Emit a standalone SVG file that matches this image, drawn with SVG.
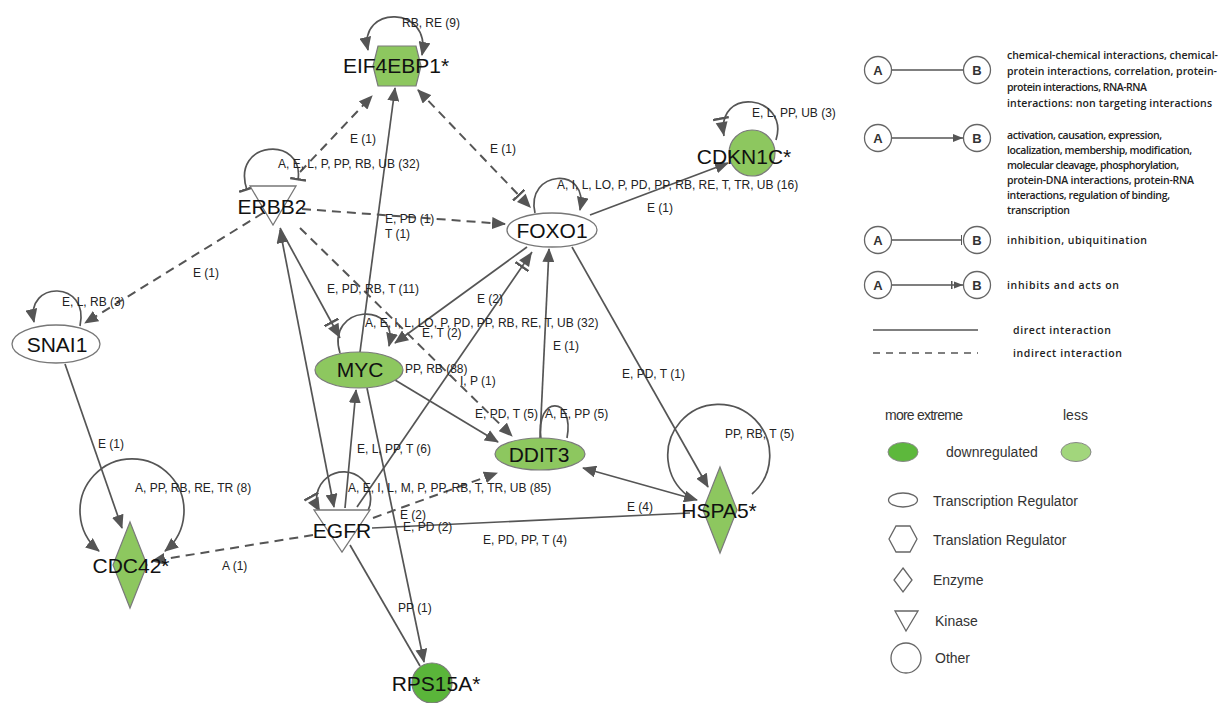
<svg xmlns="http://www.w3.org/2000/svg" width="1220" height="703" viewBox="0 0 1220 703">
<defs>
<style>
.e{fill:none;stroke:#555;stroke-width:1.7}
.d{fill:none;stroke:#555;stroke-width:2;stroke-dasharray:9 6}
.lb{font-family:"Liberation Sans",Arial,sans-serif;font-size:12px;fill:#222}
.nl{font-family:"Liberation Sans",Arial,sans-serif;font-size:21px;fill:#111;text-anchor:middle}
.g1{fill:#8dc75f;stroke:#7a7a7a;stroke-width:1.2}
.g2{fill:#5ab53a;stroke:#7a7a7a;stroke-width:1.2}
.wt{fill:#fff;stroke:#777;stroke-width:1.3}
.lg{font-family:"Open Sans","Liberation Sans",sans-serif;font-size:10.5px;font-weight:600;fill:#222}
.lg2{font-family:"Liberation Sans",Arial,sans-serif;font-size:14px;fill:#333}
.lc{fill:#fff;stroke:#666;stroke-width:1.3}
.lct{font-family:"Liberation Sans",Arial,sans-serif;font-size:13px;font-weight:bold;fill:#333;text-anchor:middle}
</style>
<marker id="arr" viewBox="0 0 14 12" refX="13" refY="6" markerWidth="14" markerHeight="12" markerUnits="userSpaceOnUse" orient="auto-start-reverse"><path d="M0,0 L14,6 L0,12 z" fill="#555"/></marker>
<marker id="inh" viewBox="0 0 20 16" refX="19" refY="8" markerWidth="20" markerHeight="16" markerUnits="userSpaceOnUse" orient="auto-start-reverse"><rect x="0" y="0" width="2.5" height="16" fill="#555"/><path d="M5,2 L19,8 L5,14 z" fill="#555"/></marker>
<marker id="bar" viewBox="0 0 4 16" refX="2" refY="8" markerWidth="4" markerHeight="16" markerUnits="userSpaceOnUse" orient="auto-start-reverse"><rect x="0" y="0" width="2.5" height="16" fill="#555"/></marker>
<marker id="arrS" viewBox="0 0 10 8" refX="10" refY="4" markerWidth="10" markerHeight="8" markerUnits="userSpaceOnUse" orient="auto"><path d="M0,0 L10,4 L0,8 z" fill="#555"/></marker>
<marker id="barS" viewBox="0 0 3 10" refX="1.5" refY="5" markerWidth="3" markerHeight="10" markerUnits="userSpaceOnUse" orient="auto"><rect x="0" y="0" width="1.5" height="10" fill="#555"/></marker>
<marker id="inhS" viewBox="0 0 12 10" refX="12" refY="5" markerWidth="12" markerHeight="10" markerUnits="userSpaceOnUse" orient="auto"><rect x="0" y="1" width="1.5" height="8" fill="#555"/><path d="M3,1.5 L12,5 L3,8.5 z" fill="#555"/></marker>
</defs>
<rect width="1220" height="703" fill="#fff"/>

<g id="connectors">
<path class="d" d="M300,172 L372,96" marker-end="url(#arr)"/>
<path class="e" d="M360,352 L395,88" marker-end="url(#arr)"/>
<path class="d" d="M418,90 L531,208" marker-start="url(#arr)" marker-end="url(#inh)"/>
<path class="d" d="M302,209 L505,224" marker-end="url(#arr)"/>
<path class="e" d="M590,215 L728,163" marker-end="url(#arr)"/>
<path class="d" d="M263,213 L85,323" marker-end="url(#arr)"/>
<path class="e" d="M65,364 L122,528" marker-end="url(#arr)"/>
<path class="e" d="M280,228 L340,338" marker-end="url(#inh)"/>
<path class="e" d="M280,230 L334,507" marker-start="url(#arr)" marker-end="url(#arr)"/>
<path class="d" d="M300,228 L512,436" marker-end="url(#arr)"/>
<path class="e" d="M527,247 L395,343" marker-end="url(#arr)"/>
<path class="e" d="M357,507 L532,252" marker-end="url(#inh)"/>
<path class="e" d="M540,438 L549,249" marker-end="url(#arr)"/>
<path class="e" d="M572,247 L708,487" marker-end="url(#arr)"/>
<path class="e" d="M395,380 L498,442" marker-end="url(#arr)"/>
<path class="d" d="M373,518 L497,473" marker-end="url(#arr)"/>
<path class="e" d="M583,468 L697,500" marker-start="url(#arr)" marker-end="url(#arr)"/>
<path class="e" d="M372,528 L690,513"/>
<path class="d" d="M313,535 L152,561" marker-end="url(#arr)"/>
<path class="e" d="M345,508 L356,390" marker-end="url(#arr)"/>
<path class="e" d="M367,388 L424,662" marker-end="url(#arr)"/>
<path class="e" d="M350,545 L420,666"/>
<path class="e" d="M368,50 C358,5 432,5 422,55" marker-start="url(#arr)" marker-end="url(#arr)"/>
<path class="e" d="M247,190 C230,140 305,135 298,180" marker-start="url(#bar)" marker-end="url(#bar)"/>
<path class="e" d="M535,213 C525,170 590,165 580,210" marker-end="url(#arr)"/>
<path class="e" d="M776,140 C790,95 715,85 724,136" marker-end="url(#inh)"/>
<path class="e" d="M80,326 C90,280 25,280 34,322" marker-end="url(#arr)"/>
<path class="e" d="M340,353 C325,305 400,300 389,346" marker-end="url(#arr)"/>
<path class="e" d="M541,439 C535,395 575,395 567,438"/>
<path class="e" d="M752,494 A51 51 0 1 0 688,496"/>
<path class="e" d="M99,551 A52 52 0 1 1 165,551" marker-start="url(#arr)" marker-end="url(#arr)"/>
<path class="e" d="M366,514 A27 27 0 1 0 320,512" marker-end="url(#inh)"/>
<text class="lb" x="402" y="27">RB, RE (9)</text>
<text class="lb" x="350" y="143">E (1)</text>
<text class="lb" x="490" y="153">E (1)</text>
<text class="lb" x="278" y="168">A, E, L, P, PP, RB, UB (32)</text>
<text class="lb" x="557" y="189">A, I, L, LO, P, PD, PP, RB, RE, T, TR, UB (16)</text>
<text class="lb" x="752" y="117">E, L, PP, UB (3)</text>
<text class="lb" x="647" y="212">E (1)</text>
<text class="lb" x="385" y="223">E, PD (1)</text>
<text class="lb" x="385" y="238">T (1)</text>
<text class="lb" x="193" y="277">E (1)</text>
<text class="lb" x="62" y="306">E, L, RB (3)</text>
<text class="lb" x="327" y="293">E, PD, RB, T (11)</text>
<text class="lb" x="477" y="303">E (2)</text>
<text class="lb" x="365" y="327">A, E, I, L, LO, P, PD, PP, RB, RE, T, UB (32)</text>
<text class="lb" x="422" y="337">E, T (2)</text>
<text class="lb" x="553" y="350">E (1)</text>
<text class="lb" x="405" y="373">PP, RB (88)</text>
<text class="lb" x="622" y="378">E, PD, T (1)</text>
<text class="lb" x="460" y="385">I, P (1)</text>
<text class="lb" x="475" y="418">E, PD, T (5)</text>
<text class="lb" x="545" y="418">A, E, PP (5)</text>
<text class="lb" x="725" y="438">PP, RB, T (5)</text>
<text class="lb" x="98" y="448">E (1)</text>
<text class="lb" x="357" y="453">E, L, PP, T (6)</text>
<text class="lb" x="135" y="492">A, PP, RB, RE, TR (8)</text>
<text class="lb" x="348" y="492">A, E, I, L, M, P, PP, RB, T, TR, UB (85)</text>
<text class="lb" x="627" y="511">E (4)</text>
<text class="lb" x="400" y="519">E (2)</text>
<text class="lb" x="403" y="531">E, PD (2)</text>
<text class="lb" x="483" y="544">E, PD, PP, T (4)</text>
<text class="lb" x="222" y="570">A (1)</text>
<text class="lb" x="398" y="612">PP (1)</text>
</g>

<g id="node-EIF4EBP1"><polygon class="g1" points="378,46 416,46 421,66 416,86 378,86 373,66"/><text class="nl" x="396" y="73">EIF4EBP1*</text></g>
<g id="node-ERBB2"><polygon class="wt" points="250,186 296,186 273,225"/><text class="nl" x="272" y="214">ERBB2</text></g>
<g id="node-FOXO1"><ellipse class="wt" cx="552" cy="230" rx="45" ry="17"/><text class="nl" x="552" y="238">FOXO1</text></g>
<g id="node-CDKN1C"><circle class="g1" cx="752" cy="153" r="23"/><text class="nl" x="744" y="164">CDKN1C*</text></g>
<g id="node-SNAI1"><ellipse class="wt" cx="56" cy="344" rx="44" ry="19"/><text class="nl" x="57" y="352">SNAI1</text></g>
<g id="node-MYC"><ellipse class="g1" cx="359" cy="370" rx="44" ry="18"/><text class="nl" x="360" y="377">MYC</text></g>
<g id="node-DDIT3"><ellipse class="g1" cx="540" cy="454" rx="45" ry="16"/><text class="nl" x="539" y="462">DDIT3</text></g>
<g id="node-HSPA5"><polygon class="g1" points="720,467 737,510 720,553 703,510"/><text class="nl" x="719" y="518">HSPA5*</text></g>
<g id="node-CDC42"><polygon class="g1" points="130,522 147,565 130,608 113,565"/><text class="nl" x="131" y="573">CDC42*</text></g>
<g id="node-EGFR"><polygon class="wt" points="314,510 370,510 342,552"/><text class="nl" x="342" y="538">EGFR</text></g>
<g id="node-RPS15A"><circle class="g2" cx="432" cy="683" r="20"/><text class="nl" x="436" y="691">RPS15A*</text></g>

<g id="legend">
<circle class="lc" cx="878" cy="70" r="13.5"/><text class="lct" x="878" y="75">A</text>
<circle class="lc" cx="977" cy="70" r="13.5"/><text class="lct" x="977" y="75">B</text>
<line x1="892" y1="70" x2="963" y2="70" stroke="#555" stroke-width="1.3"/>
<text class="lg" x="1007" y="59" textLength="211">chemical-chemical interactions, chemical-</text>
<text class="lg" x="1007" y="75" textLength="210">protein interactions, correlation, protein-</text>
<text class="lg" x="1007" y="91" textLength="140">protein interactions, RNA-RNA</text>
<text class="lg" x="1007" y="107" textLength="205">interactions: non targeting interactions</text>

<circle class="lc" cx="878" cy="138" r="13.5"/><text class="lct" x="878" y="143">A</text>
<circle class="lc" cx="977" cy="138" r="13.5"/><text class="lct" x="977" y="143">B</text>
<line x1="892" y1="138" x2="963" y2="138" stroke="#555" stroke-width="1.3" marker-end="url(#arrS)"/>
<text class="lg" x="1007" y="139" textLength="155">activation, causation, expression,</text>
<text class="lg" x="1007" y="154" textLength="185">localization, membership, modification,</text>
<text class="lg" x="1007" y="169" textLength="172">molecular cleavage, phosphorylation,</text>
<text class="lg" x="1007" y="184" textLength="187">protein-DNA interactions, protein-RNA</text>
<text class="lg" x="1007" y="199" textLength="163">interactions, regulation of binding,</text>
<text class="lg" x="1007" y="214" textLength="63">transcription</text>

<circle class="lc" cx="878" cy="240" r="13.5"/><text class="lct" x="878" y="245">A</text>
<circle class="lc" cx="977" cy="240" r="13.5"/><text class="lct" x="977" y="245">B</text>
<line x1="892" y1="240" x2="962" y2="240" stroke="#555" stroke-width="1.3" marker-end="url(#barS)"/>
<text class="lg" x="1007" y="244" textLength="140">inhibition, ubiquitination</text>

<circle class="lc" cx="878" cy="285" r="13.5"/><text class="lct" x="878" y="290">A</text>
<circle class="lc" cx="977" cy="285" r="13.5"/><text class="lct" x="977" y="290">B</text>
<line x1="892" y1="285" x2="963" y2="285" stroke="#555" stroke-width="1.3" marker-end="url(#inhS)"/>
<text class="lg" x="1007" y="289" textLength="112">inhibits and acts on</text>

<line x1="873" y1="330" x2="978" y2="330" stroke="#555" stroke-width="1.6"/>
<text class="lg" x="1013" y="334" font-size="12" textLength="98">direct interaction</text>
<line x1="873" y1="353" x2="978" y2="353" stroke="#555" stroke-width="1.6" stroke-dasharray="7 6"/>
<text class="lg" x="1013" y="357" font-size="12" textLength="109">indirect interaction</text>

<text class="lg2" x="885" y="420" font-size="12" textLength="78">more extreme</text>
<text class="lg2" x="1063" y="420" font-size="12">less</text>
<ellipse cx="903" cy="452" rx="15" ry="9.5" fill="#5db83c" stroke="#888" stroke-width="1"/>
<text class="lg2" x="946" y="457" font-size="13.5">downregulated</text>
<ellipse cx="1076" cy="452" rx="15" ry="9.5" fill="#a2d67c" stroke="#888" stroke-width="1"/>
<ellipse class="lc" cx="903" cy="500" rx="14.5" ry="7" stroke="#777"/>
<text class="lg2" x="933" y="506">Transcription Regulator</text>
<polygon class="lc" points="896,526 910,526 917,539 910,552 896,552 889,539" stroke="#777"/>
<text class="lg2" x="933" y="545">Translation Regulator</text>
<polygon class="lc" points="903,568 912,580 903,592 894,580" stroke="#777"/>
<text class="lg2" x="933" y="585">Enzyme</text>
<polygon class="lc" points="895,611 918,611 906,631" stroke="#777"/>
<text class="lg2" x="935" y="626">Kinase</text>
<circle class="lc" cx="906" cy="658" r="15" stroke="#777"/>
<text class="lg2" x="935" y="663">Other</text>
</g>
</svg>
